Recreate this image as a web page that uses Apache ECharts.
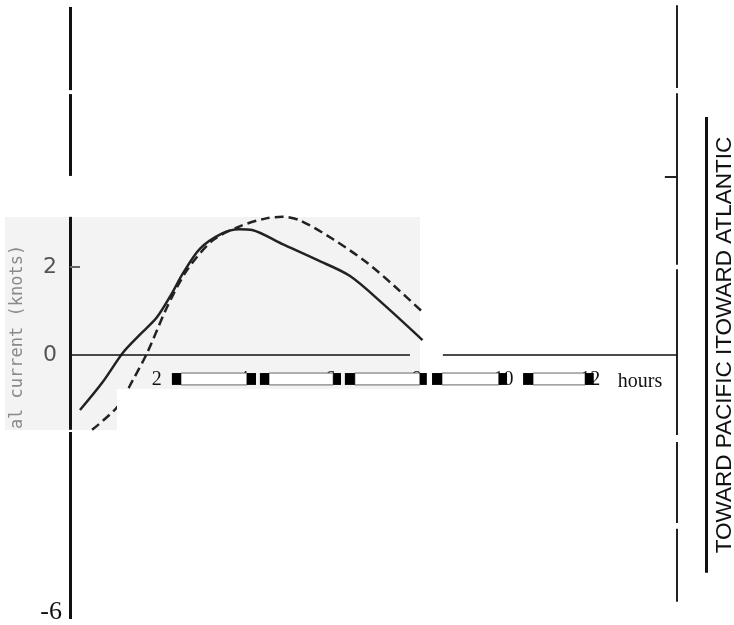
<!DOCTYPE html>
<html>
<head>
<meta charset="utf-8">
<title>tidal current</title>
<script src="https://cdn.jsdelivr.net/npm/echarts@6/dist/echarts.min.js"></script>
<style>
  html, body { margin: 0; padding: 0; background: #fff; }
  #chart { width: 734px; height: 625px; }
</style>
</head>
<body>
<div id="chart"></div>
<script>
// hours / knots
var solidCurve = [[0.23,-1.25],[0.75,-0.62],[1.22,0.05],[1.6,0.45],[2.0,0.85],[2.35,1.4],[2.6,1.85],
    [3.0,2.42],[3.5,2.76],[3.9,2.86],[4.2,2.84],[4.9,2.52],[5.7,2.16],[6.45,1.8],[7.2,1.18],[8.13,0.34]];
var dashedCurve = [[0.51,-1.7],[1.09,-1.18],[1.45,-0.57],[1.78,0.05],[2.24,1.09],[2.7,1.93],[3.3,2.61],
    [3.93,2.93],[4.5,3.1],[4.9,3.14],[5.3,3.06],[6.07,2.63],[6.86,2.09],[7.5,1.55],[8.13,0.98]];

var xTicks = [2, 4, 6, 8, 10, 12];
var yTicks = [2, 0, -6];

// broken axis strokes from the pasted-up figure
var leftAxisSegs = [[7.91, 6.02], [5.93, 4.07], [3.14, -1.70], [-1.75, -6]];
var rightAxisSegs = [[7.95, 6.07], [5.95, 2.05], [1.95, -1.82], [-1.98, -3.82], [-3.95, -5.61]];
var zeroLineSegs = [[0, 7.84], [8.60, 14]];
var ruleSegs = [[5.41, -4.95]];

// ruler boxes under the time axis: [from, to, black?]
var rulerBoxes = [
    [2.56,4.08,0],[4.59,6.07,0],[6.57,8.07,0],[8.58,9.89,0],[10.68,11.88,0],
    [2.35,2.56,1],[4.08,4.29,1],[4.38,4.59,1],[6.07,6.25,1],[6.34,6.57,1],
    [8.07,8.23,1],[8.35,8.58,1],[9.89,10.08,1],[10.45,10.68,1],[11.88,12.08,1]
];
var rulerBand = [-0.41, -0.68];
var labelRow = -0.56;

function vSegs(x, segs) {
    return segs.map(function (s) { return { coords: [[x, s[0]], [x, s[1]]] }; });
}
function hSegs(y, segs) {
    return segs.map(function (s) { return { coords: [[s[0], y], [s[1], y]] }; });
}

function run() {
    var chart = echarts.init(document.getElementById('chart'), null, { renderer: 'canvas' });

    var option = {
        animation: false,
        backgroundColor: '#fff',
        grid: { left: 70, right: 57, top: 3, bottom: 6, containLabel: false, outerBoundsMode: 'none' },
        xAxis: {
            type: 'value', min: 0, max: 14, interval: 2,
            axisLine: { show: false },
            axisTick: { show: false },
            splitLine: { show: false },
            axisLabel: { show: false }
        },
        yAxis: {
            type: 'value', min: -6, max: 8, interval: 2,
            axisLine: { show: false },
            axisTick: { show: false },
            splitLine: { show: false },
            axisLabel: {
                margin: 8,
                formatter: function (v) {
                    if (yTicks.indexOf(v) < 0) return '';
                    return v < 0 ? '{s|' + v + '}' : '{g|' + v + '}';
                },
                rich: {
                    g: { fontFamily: 'DejaVu Sans', fontSize: 22, color: '#555', padding: [0, 5, 0, 0] },
                    s: { fontFamily: 'Liberation Serif', fontSize: 26, color: '#111', padding: [0, 0, 14, 0] }
                }
            }
        },
        graphic: [
            { type: 'rect', z: -1, shape: { x: 5, y: 217, width: 415, height: 213 }, style: { fill: '#f3f3f3' } },
            { type: 'rect', z: 50, shape: { x: 117, y: 389, width: 303, height: 41 }, style: { fill: '#fff' } },
            {
                type: 'text', z: 5, x: 18, y: 337, rotation: Math.PI / 2,
                style: { text: 'al current (knots)', font: '17px "DejaVu Sans Mono"', fill: '#8a8a8a',
                    textAlign: 'center', textVerticalAlign: 'middle' }
            },
            {
                type: 'text', z: 5, x: 640, y: 382,
                style: { text: 'hours', font: '20px "Liberation Serif"', fill: '#111',
                    textAlign: 'center', textVerticalAlign: 'middle' }
            },
            {
                type: 'text', z: 5, x: 725, y: 345, rotation: Math.PI / 2,
                style: { text: 'TOWARD PACIFIC ITOWARD ATLANTIC', font: '22.5px "Liberation Sans"', fill: '#111',
                    textAlign: 'center', textVerticalAlign: 'middle' }
            }
        ],
        series: [
            {
                type: 'line', data: solidCurve, smooth: 0.3, symbol: 'none', z: 3,
                lineStyle: { color: '#222', width: 2.5 }
            },
            {
                type: 'line', data: dashedCurve, smooth: 0.3, symbol: 'none', z: 3,
                lineStyle: { color: '#222', width: 2.5, type: [9, 5] }
            },
            {
                type: 'lines', coordinateSystem: 'cartesian2d', clip: false, z: 4,
                data: vSegs(0, leftAxisSegs),
                lineStyle: { color: '#111', width: 3, opacity: 1 }
            },
            {
                type: 'lines', coordinateSystem: 'cartesian2d', clip: false, z: 4,
                data: vSegs(14, rightAxisSegs).concat([{ coords: [[13.72, 4.05], [14, 4.05]] }]),
                lineStyle: { color: '#222', width: 2, opacity: 1 }
            },
            {
                type: 'lines', coordinateSystem: 'cartesian2d', clip: false, z: 4,
                data: hSegs(0, zeroLineSegs),
                lineStyle: { color: '#111', width: 1.5, opacity: 1 }
            },
            {
                type: 'lines', coordinateSystem: 'cartesian2d', clip: false, z: 4,
                data: [{ coords: [[0, 2], [0.23, 2]] }],
                lineStyle: { color: '#666', width: 2, opacity: 1 }
            },
            {
                type: 'lines', coordinateSystem: 'cartesian2d', clip: false, z: 4,
                data: vSegs(14.67, ruleSegs),
                lineStyle: { color: '#111', width: 3, opacity: 1 }
            },
            {
                // hour labels, sitting under the ruler boxes like in the scan
                type: 'scatter', z: 5, symbolSize: 2, silent: true,
                itemStyle: { color: 'rgba(0,0,0,0)' },
                data: xTicks.map(function (v) { return [v, labelRow]; }),
                label: {
                    show: true, position: 'inside', opacity: 1,
                    formatter: function (p) { return String(p.value[0]); },
                    fontFamily: 'Liberation Serif', fontSize: 20, color: '#111'
                }
            },
            {
                type: 'custom', z: 6, clip: false,
                data: rulerBoxes,
                renderItem: function (params, api) {
                    var a = api.coord([api.value(0), rulerBand[0]]);
                    var b = api.coord([api.value(1), rulerBand[1]]);
                    var black = api.value(2) === 1;
                    return {
                        type: 'rect',
                        shape: { x: a[0], y: a[1], width: b[0] - a[0], height: b[1] - a[1] },
                        style: { fill: black ? '#000' : '#fff', stroke: black ? null : '#666', lineWidth: 1 }
                    };
                }
            }
        ]
    };

    chart.setOption(option);
}

if (document.readyState !== 'loading') {
    run();
} else {
    document.addEventListener('DOMContentLoaded', run);
}
</script>
</body>
</html>
